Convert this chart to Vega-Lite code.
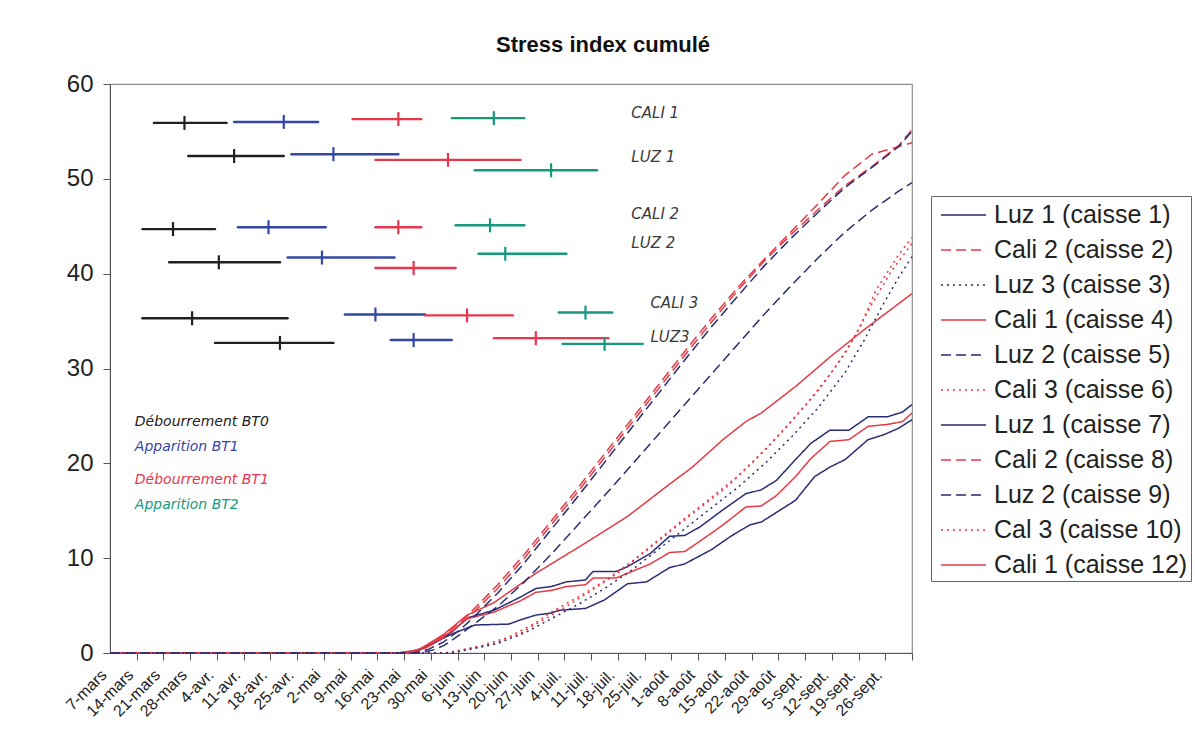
{
  "$schema": "https://vega.github.io/schema/vega-lite/v6.json",
  "width": 802,
  "height": 569,
  "autosize": {"type": "none"},
  "padding": {"left": 110, "top": 84, "right": 283, "bottom": 85},
  "background": "white",
  "title": {"text": "Stress index cumulé", "font": "Liberation Sans", "fontSize": 22, "fontWeight": "bold", "color": "#111111", "anchor": "middle", "dx": 92, "offset": 15},
  "config": {
    "view": {"stroke": "#8c8c8c", "strokeWidth": 1.2},
    "axis": {"grid": false, "domainColor": "#555555", "tickColor": "#555555", "labelColor": "#222222"}
  },
  "datasets": {
    "courbes": [
      {"serie": "Luz 1 (caisse 1)", "t": "2010/03/03 12:00", "v": 0},
      {"serie": "Luz 1 (caisse 1)", "t": "2010/05/18", "v": 0},
      {"serie": "Luz 1 (caisse 1)", "t": "2010/05/23", "v": 0.3},
      {"serie": "Luz 1 (caisse 1)", "t": "2010/05/28", "v": 1.2},
      {"serie": "Luz 1 (caisse 1)", "t": "2010/06/01", "v": 2.2},
      {"serie": "Luz 1 (caisse 1)", "t": "2010/06/05", "v": 3.7},
      {"serie": "Luz 1 (caisse 1)", "t": "2010/06/12", "v": 4.5},
      {"serie": "Luz 1 (caisse 1)", "t": "2010/06/16", "v": 5.3},
      {"serie": "Luz 1 (caisse 1)", "t": "2010/06/19", "v": 5.9},
      {"serie": "Luz 1 (caisse 1)", "t": "2010/06/23", "v": 6.8},
      {"serie": "Luz 1 (caisse 1)", "t": "2010/06/27", "v": 7.0},
      {"serie": "Luz 1 (caisse 1)", "t": "2010/07/01", "v": 7.5},
      {"serie": "Luz 1 (caisse 1)", "t": "2010/07/06", "v": 7.7},
      {"serie": "Luz 1 (caisse 1)", "t": "2010/07/08", "v": 8.6},
      {"serie": "Luz 1 (caisse 1)", "t": "2010/07/14", "v": 8.6},
      {"serie": "Luz 1 (caisse 1)", "t": "2010/07/17", "v": 9.1},
      {"serie": "Luz 1 (caisse 1)", "t": "2010/07/23", "v": 10.5},
      {"serie": "Luz 1 (caisse 1)", "t": "2010/07/28", "v": 12.3},
      {"serie": "Luz 1 (caisse 1)", "t": "2010/08/01", "v": 12.4},
      {"serie": "Luz 1 (caisse 1)", "t": "2010/08/05", "v": 13.3},
      {"serie": "Luz 1 (caisse 1)", "t": "2010/08/11", "v": 15.1},
      {"serie": "Luz 1 (caisse 1)", "t": "2010/08/17", "v": 16.8},
      {"serie": "Luz 1 (caisse 1)", "t": "2010/08/21", "v": 17.2},
      {"serie": "Luz 1 (caisse 1)", "t": "2010/08/25", "v": 18.2},
      {"serie": "Luz 1 (caisse 1)", "t": "2010/08/30", "v": 20.4},
      {"serie": "Luz 1 (caisse 1)", "t": "2010/09/03", "v": 22.1},
      {"serie": "Luz 1 (caisse 1)", "t": "2010/09/08", "v": 23.5},
      {"serie": "Luz 1 (caisse 1)", "t": "2010/09/13", "v": 23.5},
      {"serie": "Luz 1 (caisse 1)", "t": "2010/09/18", "v": 24.9},
      {"serie": "Luz 1 (caisse 1)", "t": "2010/09/23", "v": 24.9},
      {"serie": "Luz 1 (caisse 1)", "t": "2010/09/27", "v": 25.4},
      {"serie": "Luz 1 (caisse 1)", "t": "2010/09/29 12:00", "v": 26.2},

      {"serie": "Luz 1 (caisse 7)", "t": "2010/03/03 12:00", "v": 0},
      {"serie": "Luz 1 (caisse 7)", "t": "2010/05/19", "v": 0},
      {"serie": "Luz 1 (caisse 7)", "t": "2010/05/23", "v": 0.2},
      {"serie": "Luz 1 (caisse 7)", "t": "2010/05/27", "v": 1.0},
      {"serie": "Luz 1 (caisse 7)", "t": "2010/06/01", "v": 2.0},
      {"serie": "Luz 1 (caisse 7)", "t": "2010/06/07", "v": 2.95},
      {"serie": "Luz 1 (caisse 7)", "t": "2010/06/16", "v": 3.05},
      {"serie": "Luz 1 (caisse 7)", "t": "2010/06/19", "v": 3.5},
      {"serie": "Luz 1 (caisse 7)", "t": "2010/06/23", "v": 4.0},
      {"serie": "Luz 1 (caisse 7)", "t": "2010/06/27", "v": 4.2},
      {"serie": "Luz 1 (caisse 7)", "t": "2010/06/29", "v": 4.5},
      {"serie": "Luz 1 (caisse 7)", "t": "2010/07/06", "v": 4.7},
      {"serie": "Luz 1 (caisse 7)", "t": "2010/07/11", "v": 5.6},
      {"serie": "Luz 1 (caisse 7)", "t": "2010/07/17", "v": 7.3},
      {"serie": "Luz 1 (caisse 7)", "t": "2010/07/22", "v": 7.5},
      {"serie": "Luz 1 (caisse 7)", "t": "2010/07/28", "v": 9.0},
      {"serie": "Luz 1 (caisse 7)", "t": "2010/08/01", "v": 9.4},
      {"serie": "Luz 1 (caisse 7)", "t": "2010/08/08", "v": 10.9},
      {"serie": "Luz 1 (caisse 7)", "t": "2010/08/13", "v": 12.3},
      {"serie": "Luz 1 (caisse 7)", "t": "2010/08/18", "v": 13.5},
      {"serie": "Luz 1 (caisse 7)", "t": "2010/08/21", "v": 13.8},
      {"serie": "Luz 1 (caisse 7)", "t": "2010/08/30", "v": 16.1},
      {"serie": "Luz 1 (caisse 7)", "t": "2010/09/04", "v": 18.6},
      {"serie": "Luz 1 (caisse 7)", "t": "2010/09/08", "v": 19.6},
      {"serie": "Luz 1 (caisse 7)", "t": "2010/09/12", "v": 20.4},
      {"serie": "Luz 1 (caisse 7)", "t": "2010/09/18", "v": 22.5},
      {"serie": "Luz 1 (caisse 7)", "t": "2010/09/22", "v": 23.0},
      {"serie": "Luz 1 (caisse 7)", "t": "2010/09/26", "v": 23.7},
      {"serie": "Luz 1 (caisse 7)", "t": "2010/09/29 12:00", "v": 24.6},

      {"serie": "Cali 1 (caisse 4)", "t": "2010/03/03 12:00", "v": 0},
      {"serie": "Cali 1 (caisse 4)", "t": "2010/05/20", "v": 0},
      {"serie": "Cali 1 (caisse 4)", "t": "2010/05/24", "v": 0.5},
      {"serie": "Cali 1 (caisse 4)", "t": "2010/05/30", "v": 2.0},
      {"serie": "Cali 1 (caisse 4)", "t": "2010/06/05", "v": 4.0},
      {"serie": "Cali 1 (caisse 4)", "t": "2010/06/12", "v": 5.3},
      {"serie": "Cali 1 (caisse 4)", "t": "2010/06/23", "v": 8.4},
      {"serie": "Cali 1 (caisse 4)", "t": "2010/07/06", "v": 11.6},
      {"serie": "Cali 1 (caisse 4)", "t": "2010/07/17", "v": 14.4},
      {"serie": "Cali 1 (caisse 4)", "t": "2010/07/28", "v": 17.8},
      {"serie": "Cali 1 (caisse 4)", "t": "2010/08/03", "v": 19.6},
      {"serie": "Cali 1 (caisse 4)", "t": "2010/08/11", "v": 22.5},
      {"serie": "Cali 1 (caisse 4)", "t": "2010/08/17", "v": 24.4},
      {"serie": "Cali 1 (caisse 4)", "t": "2010/08/21", "v": 25.3},
      {"serie": "Cali 1 (caisse 4)", "t": "2010/08/30", "v": 28.1},
      {"serie": "Cali 1 (caisse 4)", "t": "2010/09/08", "v": 31.2},
      {"serie": "Cali 1 (caisse 4)", "t": "2010/09/17", "v": 34.1},
      {"serie": "Cali 1 (caisse 4)", "t": "2010/09/29 12:00", "v": 37.9},

      {"serie": "Cali 1 (caisse 12)", "t": "2010/03/03 12:00", "v": 0},
      {"serie": "Cali 1 (caisse 12)", "t": "2010/05/18", "v": 0},
      {"serie": "Cali 1 (caisse 12)", "t": "2010/05/23", "v": 0.3},
      {"serie": "Cali 1 (caisse 12)", "t": "2010/05/28", "v": 1.3},
      {"serie": "Cali 1 (caisse 12)", "t": "2010/06/01", "v": 2.3},
      {"serie": "Cali 1 (caisse 12)", "t": "2010/06/05", "v": 3.6},
      {"serie": "Cali 1 (caisse 12)", "t": "2010/06/12", "v": 4.3},
      {"serie": "Cali 1 (caisse 12)", "t": "2010/06/16", "v": 5.0},
      {"serie": "Cali 1 (caisse 12)", "t": "2010/06/19", "v": 5.5},
      {"serie": "Cali 1 (caisse 12)", "t": "2010/06/23", "v": 6.4},
      {"serie": "Cali 1 (caisse 12)", "t": "2010/06/27", "v": 6.6},
      {"serie": "Cali 1 (caisse 12)", "t": "2010/07/01", "v": 7.0},
      {"serie": "Cali 1 (caisse 12)", "t": "2010/07/06", "v": 7.2},
      {"serie": "Cali 1 (caisse 12)", "t": "2010/07/08", "v": 7.9},
      {"serie": "Cali 1 (caisse 12)", "t": "2010/07/14", "v": 7.9},
      {"serie": "Cali 1 (caisse 12)", "t": "2010/07/17", "v": 8.4},
      {"serie": "Cali 1 (caisse 12)", "t": "2010/07/23", "v": 9.4},
      {"serie": "Cali 1 (caisse 12)", "t": "2010/07/28", "v": 10.6},
      {"serie": "Cali 1 (caisse 12)", "t": "2010/08/01", "v": 10.7},
      {"serie": "Cali 1 (caisse 12)", "t": "2010/08/05", "v": 11.8},
      {"serie": "Cali 1 (caisse 12)", "t": "2010/08/11", "v": 13.5},
      {"serie": "Cali 1 (caisse 12)", "t": "2010/08/17", "v": 15.4},
      {"serie": "Cali 1 (caisse 12)", "t": "2010/08/21", "v": 15.5},
      {"serie": "Cali 1 (caisse 12)", "t": "2010/08/25", "v": 16.6},
      {"serie": "Cali 1 (caisse 12)", "t": "2010/08/30", "v": 18.6},
      {"serie": "Cali 1 (caisse 12)", "t": "2010/09/03", "v": 20.5},
      {"serie": "Cali 1 (caisse 12)", "t": "2010/09/08", "v": 22.3},
      {"serie": "Cali 1 (caisse 12)", "t": "2010/09/13", "v": 22.5},
      {"serie": "Cali 1 (caisse 12)", "t": "2010/09/18", "v": 23.9},
      {"serie": "Cali 1 (caisse 12)", "t": "2010/09/23", "v": 24.1},
      {"serie": "Cali 1 (caisse 12)", "t": "2010/09/27", "v": 24.4},
      {"serie": "Cali 1 (caisse 12)", "t": "2010/09/29 12:00", "v": 25.3},

      {"serie": "Cali 2 (caisse 2)", "t": "2010/03/03 12:00", "v": 0},
      {"serie": "Cali 2 (caisse 2)", "t": "2010/05/21", "v": 0},
      {"serie": "Cali 2 (caisse 2)", "t": "2010/05/24", "v": 0.3},
      {"serie": "Cali 2 (caisse 2)", "t": "2010/05/27", "v": 0.9},
      {"serie": "Cali 2 (caisse 2)", "t": "2010/05/30", "v": 1.7},
      {"serie": "Cali 2 (caisse 2)", "t": "2010/06/03", "v": 2.9},
      {"serie": "Cali 2 (caisse 2)", "t": "2010/06/06", "v": 4.0},
      {"serie": "Cali 2 (caisse 2)", "t": "2010/06/13", "v": 6.8},
      {"serie": "Cali 2 (caisse 2)", "t": "2010/06/20", "v": 10.0},
      {"serie": "Cali 2 (caisse 2)", "t": "2010/06/27", "v": 13.5},
      {"serie": "Cali 2 (caisse 2)", "t": "2010/07/04", "v": 17.0},
      {"serie": "Cali 2 (caisse 2)", "t": "2010/07/11", "v": 20.6},
      {"serie": "Cali 2 (caisse 2)", "t": "2010/07/18", "v": 24.2},
      {"serie": "Cali 2 (caisse 2)", "t": "2010/07/25", "v": 27.8},
      {"serie": "Cali 2 (caisse 2)", "t": "2010/08/01", "v": 31.4},
      {"serie": "Cali 2 (caisse 2)", "t": "2010/08/08", "v": 34.9},
      {"serie": "Cali 2 (caisse 2)", "t": "2010/08/15", "v": 38.3},
      {"serie": "Cali 2 (caisse 2)", "t": "2010/08/22", "v": 41.4},
      {"serie": "Cali 2 (caisse 2)", "t": "2010/08/29", "v": 44.2},
      {"serie": "Cali 2 (caisse 2)", "t": "2010/09/05", "v": 46.8},
      {"serie": "Cali 2 (caisse 2)", "t": "2010/09/12", "v": 49.3},
      {"serie": "Cali 2 (caisse 2)", "t": "2010/09/19", "v": 51.3},
      {"serie": "Cali 2 (caisse 2)", "t": "2010/09/26", "v": 53.5},
      {"serie": "Cali 2 (caisse 2)", "t": "2010/09/29 12:00", "v": 55.2},

      {"serie": "Cali 2 (caisse 8)", "t": "2010/03/03 12:00", "v": 0},
      {"serie": "Cali 2 (caisse 8)", "t": "2010/05/20", "v": 0},
      {"serie": "Cali 2 (caisse 8)", "t": "2010/05/23", "v": 0.3},
      {"serie": "Cali 2 (caisse 8)", "t": "2010/05/27", "v": 1.1},
      {"serie": "Cali 2 (caisse 8)", "t": "2010/05/30", "v": 1.9},
      {"serie": "Cali 2 (caisse 8)", "t": "2010/06/03", "v": 3.2},
      {"serie": "Cali 2 (caisse 8)", "t": "2010/06/06", "v": 4.3},
      {"serie": "Cali 2 (caisse 8)", "t": "2010/06/13", "v": 7.2},
      {"serie": "Cali 2 (caisse 8)", "t": "2010/06/20", "v": 10.4},
      {"serie": "Cali 2 (caisse 8)", "t": "2010/06/27", "v": 13.9},
      {"serie": "Cali 2 (caisse 8)", "t": "2010/07/04", "v": 17.4},
      {"serie": "Cali 2 (caisse 8)", "t": "2010/07/11", "v": 21.0},
      {"serie": "Cali 2 (caisse 8)", "t": "2010/07/18", "v": 24.6},
      {"serie": "Cali 2 (caisse 8)", "t": "2010/07/25", "v": 28.2},
      {"serie": "Cali 2 (caisse 8)", "t": "2010/08/01", "v": 31.8},
      {"serie": "Cali 2 (caisse 8)", "t": "2010/08/08", "v": 35.3},
      {"serie": "Cali 2 (caisse 8)", "t": "2010/08/15", "v": 38.6},
      {"serie": "Cali 2 (caisse 8)", "t": "2010/08/22", "v": 41.6},
      {"serie": "Cali 2 (caisse 8)", "t": "2010/08/29", "v": 44.5},
      {"serie": "Cali 2 (caisse 8)", "t": "2010/09/05", "v": 47.4},
      {"serie": "Cali 2 (caisse 8)", "t": "2010/09/12", "v": 50.4},
      {"serie": "Cali 2 (caisse 8)", "t": "2010/09/19", "v": 52.6},
      {"serie": "Cali 2 (caisse 8)", "t": "2010/09/26", "v": 53.4},
      {"serie": "Cali 2 (caisse 8)", "t": "2010/09/29 12:00", "v": 53.8},

      {"serie": "Luz 2 (caisse 5)", "t": "2010/03/03 12:00", "v": 0},
      {"serie": "Luz 2 (caisse 5)", "t": "2010/05/22", "v": 0},
      {"serie": "Luz 2 (caisse 5)", "t": "2010/05/26", "v": 0.4},
      {"serie": "Luz 2 (caisse 5)", "t": "2010/05/30", "v": 1.2},
      {"serie": "Luz 2 (caisse 5)", "t": "2010/06/03", "v": 2.4},
      {"serie": "Luz 2 (caisse 5)", "t": "2010/06/06", "v": 3.5},
      {"serie": "Luz 2 (caisse 5)", "t": "2010/06/13", "v": 6.3},
      {"serie": "Luz 2 (caisse 5)", "t": "2010/06/20", "v": 9.5},
      {"serie": "Luz 2 (caisse 5)", "t": "2010/06/27", "v": 13.0},
      {"serie": "Luz 2 (caisse 5)", "t": "2010/07/04", "v": 16.5},
      {"serie": "Luz 2 (caisse 5)", "t": "2010/07/11", "v": 20.1},
      {"serie": "Luz 2 (caisse 5)", "t": "2010/07/18", "v": 23.7},
      {"serie": "Luz 2 (caisse 5)", "t": "2010/07/25", "v": 27.3},
      {"serie": "Luz 2 (caisse 5)", "t": "2010/08/01", "v": 30.9},
      {"serie": "Luz 2 (caisse 5)", "t": "2010/08/08", "v": 34.4},
      {"serie": "Luz 2 (caisse 5)", "t": "2010/08/15", "v": 37.7},
      {"serie": "Luz 2 (caisse 5)", "t": "2010/08/22", "v": 40.9},
      {"serie": "Luz 2 (caisse 5)", "t": "2010/08/29", "v": 43.8},
      {"serie": "Luz 2 (caisse 5)", "t": "2010/09/05", "v": 46.5},
      {"serie": "Luz 2 (caisse 5)", "t": "2010/09/12", "v": 49.1},
      {"serie": "Luz 2 (caisse 5)", "t": "2010/09/19", "v": 51.2},
      {"serie": "Luz 2 (caisse 5)", "t": "2010/09/26", "v": 53.4},
      {"serie": "Luz 2 (caisse 5)", "t": "2010/09/29 12:00", "v": 55.0},

      {"serie": "Luz 2 (caisse 9)", "t": "2010/03/03 12:00", "v": 0},
      {"serie": "Luz 2 (caisse 9)", "t": "2010/05/24", "v": 0},
      {"serie": "Luz 2 (caisse 9)", "t": "2010/05/27", "v": 0.3},
      {"serie": "Luz 2 (caisse 9)", "t": "2010/05/30", "v": 0.8},
      {"serie": "Luz 2 (caisse 9)", "t": "2010/06/03", "v": 1.9},
      {"serie": "Luz 2 (caisse 9)", "t": "2010/06/06", "v": 2.8},
      {"serie": "Luz 2 (caisse 9)", "t": "2010/06/13", "v": 4.9},
      {"serie": "Luz 2 (caisse 9)", "t": "2010/06/20", "v": 7.5},
      {"serie": "Luz 2 (caisse 9)", "t": "2010/06/27", "v": 10.4},
      {"serie": "Luz 2 (caisse 9)", "t": "2010/07/04", "v": 13.5},
      {"serie": "Luz 2 (caisse 9)", "t": "2010/07/11", "v": 16.6},
      {"serie": "Luz 2 (caisse 9)", "t": "2010/07/18", "v": 19.8},
      {"serie": "Luz 2 (caisse 9)", "t": "2010/07/25", "v": 23.0},
      {"serie": "Luz 2 (caisse 9)", "t": "2010/08/01", "v": 26.2},
      {"serie": "Luz 2 (caisse 9)", "t": "2010/08/08", "v": 29.4},
      {"serie": "Luz 2 (caisse 9)", "t": "2010/08/15", "v": 32.6},
      {"serie": "Luz 2 (caisse 9)", "t": "2010/08/22", "v": 35.8},
      {"serie": "Luz 2 (caisse 9)", "t": "2010/08/29", "v": 38.8},
      {"serie": "Luz 2 (caisse 9)", "t": "2010/09/05", "v": 41.7},
      {"serie": "Luz 2 (caisse 9)", "t": "2010/09/12", "v": 44.4},
      {"serie": "Luz 2 (caisse 9)", "t": "2010/09/19", "v": 46.7},
      {"serie": "Luz 2 (caisse 9)", "t": "2010/09/26", "v": 48.7},
      {"serie": "Luz 2 (caisse 9)", "t": "2010/09/29 12:00", "v": 49.6},

      {"serie": "Cali 3 (caisse 6)", "t": "2010/03/03 12:00", "v": 0},
      {"serie": "Cali 3 (caisse 6)", "t": "2010/05/30", "v": 0},
      {"serie": "Cali 3 (caisse 6)", "t": "2010/06/03", "v": 0.3},
      {"serie": "Cali 3 (caisse 6)", "t": "2010/06/09", "v": 0.8},
      {"serie": "Cali 3 (caisse 6)", "t": "2010/06/16", "v": 1.7},
      {"serie": "Cali 3 (caisse 6)", "t": "2010/06/23", "v": 3.2},
      {"serie": "Cali 3 (caisse 6)", "t": "2010/06/27", "v": 4.3},
      {"serie": "Cali 3 (caisse 6)", "t": "2010/07/04", "v": 5.9},
      {"serie": "Cali 3 (caisse 6)", "t": "2010/07/11", "v": 7.6},
      {"serie": "Cali 3 (caisse 6)", "t": "2010/07/18", "v": 9.6},
      {"serie": "Cali 3 (caisse 6)", "t": "2010/07/25", "v": 11.9},
      {"serie": "Cali 3 (caisse 6)", "t": "2010/08/01", "v": 14.2},
      {"serie": "Cali 3 (caisse 6)", "t": "2010/08/08", "v": 16.4},
      {"serie": "Cali 3 (caisse 6)", "t": "2010/08/15", "v": 18.7},
      {"serie": "Cali 3 (caisse 6)", "t": "2010/08/22", "v": 21.4},
      {"serie": "Cali 3 (caisse 6)", "t": "2010/08/29", "v": 24.5},
      {"serie": "Cali 3 (caisse 6)", "t": "2010/09/05", "v": 27.7},
      {"serie": "Cali 3 (caisse 6)", "t": "2010/09/12", "v": 31.6},
      {"serie": "Cali 3 (caisse 6)", "t": "2010/09/16", "v": 34.5},
      {"serie": "Cali 3 (caisse 6)", "t": "2010/09/20", "v": 38.2},
      {"serie": "Cali 3 (caisse 6)", "t": "2010/09/26", "v": 42.0},
      {"serie": "Cali 3 (caisse 6)", "t": "2010/09/29 12:00", "v": 43.8},

      {"serie": "Cal 3 (caisse 10)", "t": "2010/03/03 12:00", "v": 0},
      {"serie": "Cal 3 (caisse 10)", "t": "2010/05/31", "v": 0},
      {"serie": "Cal 3 (caisse 10)", "t": "2010/06/05", "v": 0.4},
      {"serie": "Cal 3 (caisse 10)", "t": "2010/06/12", "v": 1.0},
      {"serie": "Cal 3 (caisse 10)", "t": "2010/06/19", "v": 2.1},
      {"serie": "Cal 3 (caisse 10)", "t": "2010/06/25", "v": 3.5},
      {"serie": "Cal 3 (caisse 10)", "t": "2010/07/01", "v": 4.9},
      {"serie": "Cal 3 (caisse 10)", "t": "2010/07/08", "v": 6.7},
      {"serie": "Cal 3 (caisse 10)", "t": "2010/07/15", "v": 8.6},
      {"serie": "Cal 3 (caisse 10)", "t": "2010/07/22", "v": 10.8},
      {"serie": "Cal 3 (caisse 10)", "t": "2010/07/29", "v": 13.1},
      {"serie": "Cal 3 (caisse 10)", "t": "2010/08/05", "v": 15.3},
      {"serie": "Cal 3 (caisse 10)", "t": "2010/08/12", "v": 17.5},
      {"serie": "Cal 3 (caisse 10)", "t": "2010/08/19", "v": 20.2},
      {"serie": "Cal 3 (caisse 10)", "t": "2010/08/26", "v": 23.1},
      {"serie": "Cal 3 (caisse 10)", "t": "2010/09/02", "v": 26.3},
      {"serie": "Cal 3 (caisse 10)", "t": "2010/09/09", "v": 29.9},
      {"serie": "Cal 3 (caisse 10)", "t": "2010/09/14", "v": 33.0},
      {"serie": "Cal 3 (caisse 10)", "t": "2010/09/19", "v": 36.8},
      {"serie": "Cal 3 (caisse 10)", "t": "2010/09/24", "v": 40.2},
      {"serie": "Cal 3 (caisse 10)", "t": "2010/09/29 12:00", "v": 43.2},

      {"serie": "Luz 3 (caisse 3)", "t": "2010/03/03 12:00", "v": 0},
      {"serie": "Luz 3 (caisse 3)", "t": "2010/06/01", "v": 0},
      {"serie": "Luz 3 (caisse 3)", "t": "2010/06/06", "v": 0.4},
      {"serie": "Luz 3 (caisse 3)", "t": "2010/06/13", "v": 1.0},
      {"serie": "Luz 3 (caisse 3)", "t": "2010/06/20", "v": 2.1},
      {"serie": "Luz 3 (caisse 3)", "t": "2010/06/27", "v": 3.6},
      {"serie": "Luz 3 (caisse 3)", "t": "2010/07/04", "v": 5.1},
      {"serie": "Luz 3 (caisse 3)", "t": "2010/07/11", "v": 6.8},
      {"serie": "Luz 3 (caisse 3)", "t": "2010/07/18", "v": 8.7},
      {"serie": "Luz 3 (caisse 3)", "t": "2010/07/25", "v": 10.9},
      {"serie": "Luz 3 (caisse 3)", "t": "2010/08/01", "v": 13.1},
      {"serie": "Luz 3 (caisse 3)", "t": "2010/08/08", "v": 15.3},
      {"serie": "Luz 3 (caisse 3)", "t": "2010/08/15", "v": 17.5},
      {"serie": "Luz 3 (caisse 3)", "t": "2010/08/22", "v": 20.0},
      {"serie": "Luz 3 (caisse 3)", "t": "2010/08/29", "v": 22.8},
      {"serie": "Luz 3 (caisse 3)", "t": "2010/09/05", "v": 25.9},
      {"serie": "Luz 3 (caisse 3)", "t": "2010/09/12", "v": 29.6},
      {"serie": "Luz 3 (caisse 3)", "t": "2010/09/17", "v": 33.0},
      {"serie": "Luz 3 (caisse 3)", "t": "2010/09/22", "v": 36.8},
      {"serie": "Luz 3 (caisse 3)", "t": "2010/09/26", "v": 39.6},
      {"serie": "Luz 3 (caisse 3)", "t": "2010/09/29 12:00", "v": 41.8}
    ],
    "stades": [
      {"ligne": "CALI 1", "stade": "Débourrement BT0", "debut": "2010/03/15", "moy": "2010/03/23", "fin": "2010/04/03", "niveau": 55.9},
      {"ligne": "CALI 1", "stade": "Apparition BT1", "debut": "2010/04/05", "moy": "2010/04/18", "fin": "2010/04/27", "niveau": 56.0},
      {"ligne": "CALI 1", "stade": "Débourrement BT1", "debut": "2010/05/06", "moy": "2010/05/18", "fin": "2010/05/24", "niveau": 56.3},
      {"ligne": "CALI 1", "stade": "Apparition BT2", "debut": "2010/06/01", "moy": "2010/06/12", "fin": "2010/06/20", "niveau": 56.4},
      {"ligne": "LUZ 1", "stade": "Débourrement BT0", "debut": "2010/03/24", "moy": "2010/04/05", "fin": "2010/04/18", "niveau": 52.4},
      {"ligne": "LUZ 1", "stade": "Apparition BT1", "debut": "2010/04/20", "moy": "2010/05/01", "fin": "2010/05/18", "niveau": 52.6},
      {"ligne": "LUZ 1", "stade": "Débourrement BT1", "debut": "2010/05/12", "moy": "2010/05/31", "fin": "2010/06/19", "niveau": 52.0},
      {"ligne": "LUZ 1", "stade": "Apparition BT2", "debut": "2010/06/07", "moy": "2010/06/27", "fin": "2010/07/09", "niveau": 50.9},
      {"ligne": "CALI 2", "stade": "Débourrement BT0", "debut": "2010/03/12", "moy": "2010/03/20", "fin": "2010/03/31", "niveau": 44.7},
      {"ligne": "CALI 2", "stade": "Apparition BT1", "debut": "2010/04/06", "moy": "2010/04/14", "fin": "2010/04/29", "niveau": 44.9},
      {"ligne": "CALI 2", "stade": "Débourrement BT1", "debut": "2010/05/12", "moy": "2010/05/18", "fin": "2010/05/24", "niveau": 44.9},
      {"ligne": "CALI 2", "stade": "Apparition BT2", "debut": "2010/06/02", "moy": "2010/06/11", "fin": "2010/06/20", "niveau": 45.1},
      {"ligne": "LUZ 2", "stade": "Débourrement BT0", "debut": "2010/03/19", "moy": "2010/04/01", "fin": "2010/04/17", "niveau": 41.2},
      {"ligne": "LUZ 2", "stade": "Apparition BT1", "debut": "2010/04/19", "moy": "2010/04/28", "fin": "2010/05/17", "niveau": 41.7},
      {"ligne": "LUZ 2", "stade": "Débourrement BT1", "debut": "2010/05/12", "moy": "2010/05/22", "fin": "2010/06/02", "niveau": 40.6},
      {"ligne": "LUZ 2", "stade": "Apparition BT2", "debut": "2010/06/08", "moy": "2010/06/15", "fin": "2010/07/01", "niveau": 42.1},
      {"ligne": "CALI 3", "stade": "Débourrement BT0", "debut": "2010/03/12", "moy": "2010/03/25", "fin": "2010/04/19", "niveau": 35.3},
      {"ligne": "CALI 3", "stade": "Apparition BT1", "debut": "2010/05/04", "moy": "2010/05/12", "fin": "2010/05/25", "niveau": 35.7},
      {"ligne": "CALI 3", "stade": "Débourrement BT1", "debut": "2010/05/25", "moy": "2010/06/05", "fin": "2010/06/17", "niveau": 35.6},
      {"ligne": "CALI 3", "stade": "Apparition BT2", "debut": "2010/06/29", "moy": "2010/07/06", "fin": "2010/07/13", "niveau": 35.9},
      {"ligne": "LUZ3", "stade": "Débourrement BT0", "debut": "2010/03/31", "moy": "2010/04/17", "fin": "2010/05/01", "niveau": 32.7},
      {"ligne": "LUZ3", "stade": "Apparition BT1", "debut": "2010/05/16", "moy": "2010/05/22", "fin": "2010/06/01", "niveau": 33.0},
      {"ligne": "LUZ3", "stade": "Débourrement BT1", "debut": "2010/06/12", "moy": "2010/06/23", "fin": "2010/07/12", "niveau": 33.2},
      {"ligne": "LUZ3", "stade": "Apparition BT2", "debut": "2010/06/30", "moy": "2010/07/11", "fin": "2010/07/21", "niveau": 32.6}
    ],
    "lignes": [
      {"txt": "CALI 1", "t": "2010/07/18", "v": 56.9},
      {"txt": "LUZ 1", "t": "2010/07/18", "v": 52.3},
      {"txt": "CALI 2", "t": "2010/07/18", "v": 46.3},
      {"txt": "LUZ 2", "t": "2010/07/18", "v": 43.2},
      {"txt": "CALI 3", "t": "2010/07/23", "v": 36.9},
      {"txt": "LUZ3", "t": "2010/07/23", "v": 33.3}
    ],
    "cles": [
      {"stade": "Débourrement BT0", "t": "2010/03/10", "v": 24.4},
      {"stade": "Apparition BT1", "t": "2010/03/10", "v": 21.7},
      {"stade": "Débourrement BT1", "t": "2010/03/10", "v": 18.2},
      {"stade": "Apparition BT2", "t": "2010/03/10", "v": 15.6}
    ]
  },
  "layer": [
    {
      "data": {"name": "courbes"},
      "mark": {"type": "line", "strokeWidth": 1.5},
      "encoding": {
        "x": {
          "field": "t", "type": "temporal",
          "scale": {"domain": [{"year": 2010, "month": 3, "date": 3, "hours": 12}, {"year": 2010, "month": 9, "date": 29, "hours": 12}], "nice": false},
          "axis": {
            "title": null,
            "tickCount": {"interval": "week", "step": 1},
            "labelExpr": "date(datum.value) + '-' + ['janv.','févr.','mars','avr.','mai','juin','juil.','août','sept.','oct.','nov.','déc.'][month(datum.value)]",
            "labelAngle": -45, "labelAlign": "right", "labelBaseline": "middle",
            "labelFont": "Liberation Sans", "labelFontSize": 16,
            "tickSize": 7, "tickOffset": 13.36, "labelOffset": -33, "labelPadding": 12,
            "labelOverlap": false, "labelFlush": false
          }
        },
        "y": {
          "field": "v", "type": "quantitative",
          "scale": {"domain": [0, 60], "nice": false},
          "axis": {
            "title": "Stress index", "titleFont": "Liberation Sans", "titleFontSize": 24, "titleFontWeight": "bold", "titleColor": "#222222", "titlePadding": 18,
            "values": [0, 10, 20, 30, 40, 50, 60],
            "labelFont": "Liberation Sans", "labelFontSize": 24, "labelPadding": 10, "tickSize": 7, "labelFlush": false
          }
        },
        "color": {
          "field": "serie", "type": "nominal",
          "scale": {
            "domain": ["Luz 1 (caisse 1)", "Cali 2 (caisse 2)", "Luz 3 (caisse 3)", "Cali 1 (caisse 4)", "Luz 2 (caisse 5)", "Cali 3 (caisse 6)", "Luz 1 (caisse 7)", "Cali 2 (caisse 8)", "Luz 2 (caisse 9)", "Cal 3 (caisse 10)", "Cali 1 (caisse 12)"],
            "range": ["#2a2d72", "#e63a45", "#2a2d72", "#e63a45", "#2a2d72", "#e63a45", "#2a2d72", "#e63a45", "#2a2d72", "#e63a45", "#e63a45"]
          },
          "legend": {
            "title": null, "orient": "none", "legendX": 821, "legendY": 112,
            "symbolType": "M-0.6,0H2.4", "symbolSize": 900, "symbolStrokeWidth": 1.6,
            "labelFont": "Liberation Sans", "labelFontSize": 25, "labelColor": "#222222", "labelLimit": 400,
            "labelOffset": 28, "rowPadding": 6, "padding": 3,
            "strokeColor": "#666666", "fillColor": "white"
          }
        },
        "strokeDash": {
          "field": "serie", "type": "nominal",
          "scale": {
            "domain": ["Luz 1 (caisse 1)", "Cali 2 (caisse 2)", "Luz 3 (caisse 3)", "Cali 1 (caisse 4)", "Luz 2 (caisse 5)", "Cali 3 (caisse 6)", "Luz 1 (caisse 7)", "Cali 2 (caisse 8)", "Luz 2 (caisse 9)", "Cal 3 (caisse 10)", "Cali 1 (caisse 12)"],
            "range": [[1, 0], [10, 5], [2, 4], [1, 0], [10, 5], [2, 4], [1, 0], [10, 5], [10, 5], [2, 4], [1, 0]]
          },
          "legend": {
            "title": null, "orient": "none", "legendX": 821, "legendY": 112,
            "symbolType": "M-0.6,0H2.4", "symbolSize": 900, "symbolStrokeWidth": 1.6,
            "labelFont": "Liberation Sans", "labelFontSize": 25, "labelColor": "#222222", "labelLimit": 400,
            "labelOffset": 28, "rowPadding": 6, "padding": 3,
            "strokeColor": "#666666", "fillColor": "white"
          }
        }
      }
    },
    {
      "data": {"name": "stades"},
      "mark": {"type": "rule", "strokeWidth": 2.4, "strokeCap": "round"},
      "encoding": {
        "x": {"field": "debut", "type": "temporal", "title": null},
        "x2": {"field": "fin"},
        "y": {"field": "niveau", "type": "quantitative", "title": null},
        "stroke": {
          "field": "stade", "type": "nominal",
          "scale": {"domain": ["Débourrement BT0", "Apparition BT1", "Débourrement BT1", "Apparition BT2"], "range": ["#202020", "#3446a8", "#e8364e", "#16977e"]},
          "legend": null
        }
      }
    },
    {
      "data": {"name": "stades"},
      "mark": {"type": "point", "shape": "M0,-1L0,1", "size": 196, "strokeWidth": 2.2, "filled": false, "opacity": 1},
      "encoding": {
        "x": {"field": "moy", "type": "temporal", "title": null},
        "y": {"field": "niveau", "type": "quantitative", "title": null},
        "stroke": {"field": "stade", "type": "nominal", "legend": null}
      }
    },
    {
      "data": {"name": "lignes"},
      "mark": {"type": "text", "font": "DejaVu Sans", "fontStyle": "italic", "fontSize": 15, "color": "#3a3a3a", "align": "left", "baseline": "middle"},
      "encoding": {
        "x": {"field": "t", "type": "temporal", "title": null},
        "y": {"field": "v", "type": "quantitative", "title": null},
        "text": {"field": "txt"}
      }
    },
    {
      "data": {"name": "cles"},
      "mark": {"type": "text", "font": "DejaVu Sans", "fontStyle": "italic", "fontSize": 14, "align": "left", "baseline": "middle"},
      "encoding": {
        "x": {"field": "t", "type": "temporal", "title": null},
        "y": {"field": "v", "type": "quantitative", "title": null},
        "text": {"field": "stade"},
        "fill": {
          "field": "stade", "type": "nominal",
          "scale": {"domain": ["Débourrement BT0", "Apparition BT1", "Débourrement BT1", "Apparition BT2"], "range": ["#202020", "#3446a8", "#e8364e", "#16977e"]},
          "legend": null
        }
      }
    }
  ]
}
